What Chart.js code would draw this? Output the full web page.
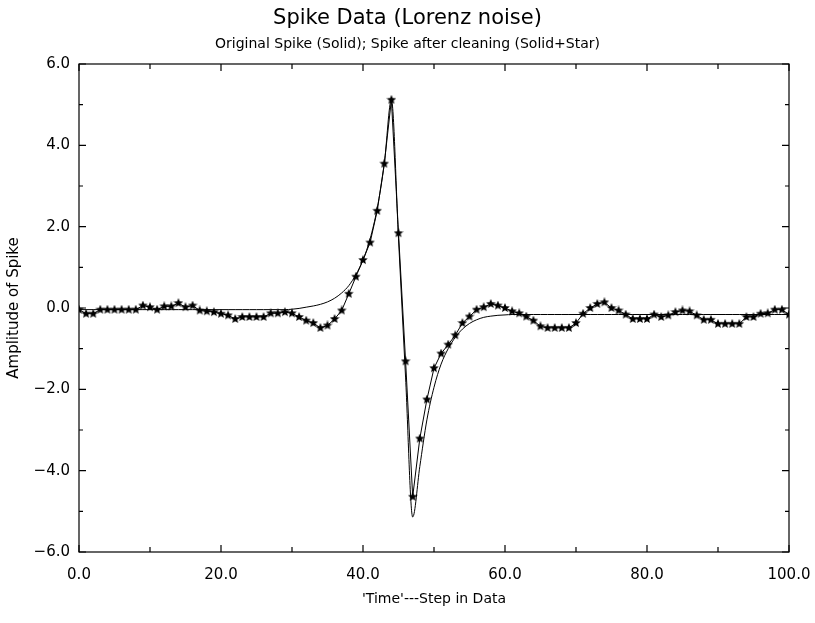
<!DOCTYPE html>
<html>
<head>
<meta charset="utf-8">
<script src="https://cdn.jsdelivr.net/npm/chart.js@4/dist/chart.umd.min.js"></script>
<style>
  html, body { margin: 0; padding: 0; background: #fff; }
  #wrap { width: 815px; height: 623px; }
</style>
</head>
<body>
<div id="wrap"><canvas id="spikeChart" width="815" height="623"></canvas></div>
<script>
// step index along the data
const steps = [
  0, 1, 2, 3, 4, 5, 6, 7, 8, 9, 10, 11, 12, 13, 14, 15, 16, 17, 18, 19,
  20, 21, 22, 23, 24, 25, 26, 27, 28, 29, 30, 31, 32, 33, 34, 35, 36, 37, 38, 39,
  40, 41, 42, 43, 44, 45, 46, 47, 48, 49, 50, 51, 52, 53, 54, 55, 56, 57, 58, 59,
  60, 61, 62, 63, 64, 65, 66, 67, 68, 69, 70, 71, 72, 73, 74, 75, 76, 77, 78, 79,
  80, 81, 82, 83, 84, 85, 86, 87, 88, 89, 90, 91, 92, 93, 94, 95, 96, 97, 98, 99,
  100
];

// original spike (solid line)
const originalSpike = [
  -0.04, -0.04, -0.04, -0.04, -0.04, -0.04, -0.04, -0.04, -0.04, -0.04,
  -0.04, -0.04, -0.04, -0.04, -0.04, -0.04, -0.04, -0.04, -0.04, -0.04,
  -0.04, -0.04, -0.04, -0.04, -0.04, -0.04, -0.04, -0.04, -0.04, -0.04,
  -0.03, -0.01, 0.02, 0.05, 0.09, 0.15, 0.24, 0.37, 0.55, 0.82,
  1.18, 1.70, 2.45, 3.55, 5.12, 1.70, -1.72, -5.14, -3.90, -2.75,
  -1.95, -1.38, -1.00, -0.72, -0.52, -0.38, -0.29, -0.23, -0.20, -0.18,
  -0.17, -0.16, -0.16, -0.16, -0.16, -0.16, -0.16, -0.16, -0.16, -0.16,
  -0.16, -0.16, -0.16, -0.16, -0.16, -0.16, -0.16, -0.16, -0.16, -0.16,
  -0.16, -0.16, -0.16, -0.16, -0.16, -0.16, -0.16, -0.16, -0.16, -0.16,
  -0.16, -0.16, -0.16, -0.16, -0.16, -0.16, -0.16, -0.16, -0.16, -0.16,
  -0.16
];

// spike after cleaning (solid + star)
const cleanedSpike = [
  -0.04, -0.14, -0.14, -0.04, -0.04, -0.04, -0.04, -0.04, -0.04, 0.06,
  0.02, -0.04, 0.04, 0.04, 0.12, 0.02, 0.06, -0.06, -0.08, -0.10,
  -0.14, -0.18, -0.27, -0.22, -0.22, -0.22, -0.22, -0.13, -0.13, -0.10,
  -0.13, -0.22, -0.31, -0.37, -0.49, -0.43, -0.27, -0.06, 0.35, 0.77,
  1.18, 1.61, 2.39, 3.55, 5.12, 1.84, -1.31, -4.64, -3.21, -2.25,
  -1.48, -1.12, -0.90, -0.67, -0.37, -0.21, -0.04, 0.02, 0.10, 0.06,
  0.00, -0.08, -0.13, -0.21, -0.31, -0.45, -0.49, -0.49, -0.49, -0.49,
  -0.37, -0.14, 0.00, 0.10, 0.14, 0.00, -0.06, -0.16, -0.27, -0.27,
  -0.27, -0.16, -0.22, -0.18, -0.10, -0.06, -0.08, -0.18, -0.29, -0.29,
  -0.39, -0.39, -0.39, -0.39, -0.22, -0.22, -0.14, -0.13, -0.04, -0.04,
  -0.16
];

const FONT = "'DejaVu Sans', sans-serif";

// filled five-point star used as marker
function makeStar(size) {
  const c = document.createElement('canvas');
  c.width = size; c.height = size;
  const g = c.getContext('2d');
  const r = size / 2, ri = r * 0.45;
  g.beginPath();
  for (let i = 0; i < 10; i++) {
    const rad = i % 2 === 0 ? r : ri;
    const a = -Math.PI / 2 + i * Math.PI / 5;
    const px = r + rad * Math.cos(a), py = r + rad * Math.sin(a);
    if (i === 0) g.moveTo(px, py); else g.lineTo(px, py);
  }
  g.closePath();
  g.fillStyle = '#000';
  g.fill();
  return c;
}
const starImg = makeStar(10);

function fmt(v) {
  const s = Math.abs(v).toFixed(1);
  return v < 0 ? '\u2212' + s : s;
}

// frame + inward tick marks like the original plot
const framePlugin = {
  id: 'frame',
  afterDraw(chart) {
    const { ctx, chartArea: a, scales: { x, y } } = chart;
    ctx.save();
    ctx.strokeStyle = '#000';
    ctx.lineWidth = 1.2;
    ctx.strokeRect(a.left, a.top, a.right - a.left, a.bottom - a.top);
    ctx.beginPath();
    for (let v = 0; v <= 100; v += 10) {
      const px = x.getPixelForValue(v);
      const len = v % 20 === 0 ? 7 : 5;
      ctx.moveTo(px, a.bottom); ctx.lineTo(px, a.bottom - len);
      ctx.moveTo(px, a.top); ctx.lineTo(px, a.top + len);
    }
    for (let v = -6; v <= 6; v += 1) {
      const py = y.getPixelForValue(v);
      const len = v % 2 === 0 ? 7 : 4;
      ctx.moveTo(a.left, py); ctx.lineTo(a.left + len, py);
      ctx.moveTo(a.right, py); ctx.lineTo(a.right - len, py);
    }
    ctx.stroke();
    ctx.restore();
  }
};

new Chart(document.getElementById('spikeChart'), {
  type: 'line',
  data: {
    labels: steps,
    datasets: [
      {
        label: 'Original Spike',
        data: originalSpike,
        borderColor: '#000',
        borderWidth: 1,
        pointRadius: 0,
        cubicInterpolationMode: 'monotone'
      },
      {
        label: 'Spike after cleaning',
        data: cleanedSpike,
        borderColor: '#000',
        borderWidth: 1,
        pointStyle: starImg,
        pointRadius: 5,
        tension: 0
      }
    ]
  },
  options: {
    responsive: false,
    animation: false,
    layout: { padding: { left: 0, right: 0, top: 0, bottom: 0 } },
    plugins: {
      legend: { display: false },
      tooltip: { enabled: false },
      title: {
        display: true,
        text: 'Spike Data (Lorenz noise)',
        color: '#000',
        font: { family: FONT, size: 21, weight: 'normal' },
        padding: { top: 6, bottom: 5 }
      },
      subtitle: {
        display: true,
        text: 'Original Spike (Solid); Spike after cleaning (Solid+Star)',
        color: '#000',
        font: { family: FONT, size: 14, weight: 'normal' },
        padding: { top: 0, bottom: 11 }
      }
    },
    scales: {
      x: {
        type: 'linear',
        min: 0,
        max: 100,
        grid: { display: false, drawTicks: false },
        border: { display: false },
        ticks: {
          stepSize: 20,
          padding: 14,
          color: '#000',
          font: { family: FONT, size: 15 },
          maxRotation: 0,
          callback: v => fmt(v)
        },
        title: {
          display: true,
          text: "'Time'---Step in Data",
          color: '#000',
          font: { family: FONT, size: 14 },
          padding: { top: 0, bottom: 15 }
        },
        afterFit(s) { s.height = 71; s.paddingRight = 26; s.paddingLeft = 0; }
      },
      y: {
        min: -6,
        max: 6,
        grid: { display: false, drawTicks: false },
        border: { display: false },
        ticks: {
          stepSize: 2,
          padding: 9,
          color: '#000',
          font: { family: FONT, size: 15 },
          callback: v => fmt(v)
        },
        title: {
          display: true,
          text: 'Amplitude of Spike',
          color: '#000',
          font: { family: FONT, size: 15 },
          padding: { top: 5, bottom: 0 }
        },
        afterFit(s) { s.width = 79; }
      }
    }
  },
  plugins: [framePlugin]
});
</script>
</body>
</html>
